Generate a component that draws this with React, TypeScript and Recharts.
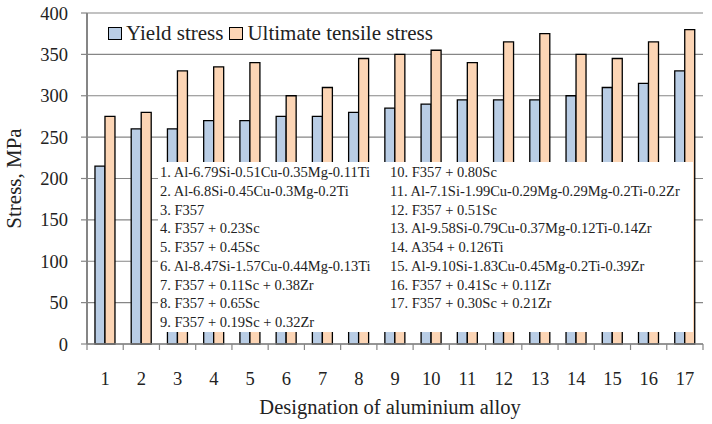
import React from 'react';
import { BarChart, Bar, XAxis, YAxis, CartesianGrid } from 'recharts';

const alloyIds = ['1', '2', '3', '4', '5', '6', '7', '8', '9', '10', '11', '12', '13', '14', '15', '16', '17'];
const yieldStress = [215, 260, 260, 270, 270, 275, 275, 280, 285, 290, 295, 295, 295, 300, 310, 315, 330];
const ultimateStress = [275, 280, 330, 335, 340, 300, 310, 345, 350, 355, 340, 365, 375, 350, 345, 365, 380];
const yTicks = [0, 50, 100, 150, 200, 250, 300, 350, 400];
const seriesNames = ['Yield stress', 'Ultimate tensile stress'];
const seriesColors = ['#B9CDE5', '#FCD5B5'];
const alloyNames = [
  '1. Al-6.79Si-0.51Cu-0.35Mg-0.11Ti',
  '2. Al-6.8Si-0.45Cu-0.3Mg-0.2Ti',
  '3. F357',
  '4. F357 + 0.23Sc',
  '5. F357 + 0.45Sc',
  '6. Al-8.47Si-1.57Cu-0.44Mg-0.13Ti',
  '7. F357 + 0.11Sc + 0.38Zr',
  '8. F357 + 0.65Sc',
  '9. F357 + 0.19Sc + 0.32Zr',
  '10. F357 + 0.80Sc',
  '11. Al-7.1Si-1.99Cu-0.29Mg-0.29Mg-0.2Ti-0.2Zr',
  '12. F357 + 0.51Sc',
  '13. Al-9.58Si-0.79Cu-0.37Mg-0.12Ti-0.14Zr',
  '14. A354 + 0.126Ti',
  '15. Al-9.10Si-1.83Cu-0.45Mg-0.2Ti-0.39Zr',
  '16. F357 + 0.41Sc + 0.11Zr',
  '17. F357 + 0.30Sc + 0.21Zr',
];

const data = alloyIds.map((id, i) => ({ id, ys: yieldStress[i], uts: ultimateStress[i] }));

const FONT = '"Liberation Serif", serif';
const GRAY = '#868686';

const XTick = (props: any) => {
  const { x, y, payload, index, visibleTicksCount } = props;
  const off = payload && payload.offset != null ? payload.offset : 18;
  const isLast = index === visibleTicksCount - 1;
  return (
    <g>
      <line x1={x - off} x2={x - off} y1={y} y2={y + 6} stroke={GRAY} strokeWidth={1.2} />
      {isLast && <line x1={x + off} x2={x + off} y1={y} y2={y + 6} stroke={GRAY} strokeWidth={1.2} />}
      <text x={x} y={y + 41} textAnchor="middle" fontFamily={FONT} fontSize={18.5} fill="#222">
        {payload.value}
      </text>
    </g>
  );
};

const YLabel = (props: any) => {
  const vb = props.viewBox || { x: 0, y: 13, width: 87, height: 331 };
  const cx = vb.x + 14;
  const cy = vb.y + vb.height / 2;
  return (
    <text x={cx} y={cy} textAnchor="middle" dominantBaseline="central" transform={`rotate(-90, ${cx}, ${cy})`} fontFamily={FONT} fontSize={21} fill="#222">
      Stress, MPa
    </text>
  );
};

const XLabel = (props: any) => {
  const vb = props.viewBox || { x: 87, y: 344, width: 616, height: 80 };
  return (
    <text x={vb.x + vb.width / 2 - 5} y={vb.y + 70} textAnchor="middle" fontFamily={FONT} fontSize={20.5} fill="#222">
      Designation of aluminium alloy
    </text>
  );
};

export default function App() {
  const half = Math.ceil(alloyNames.length / 2);
  const col1 = alloyNames.slice(0, half);
  const col2 = alloyNames.slice(half);
  return (
    <div style={{ position: 'absolute', left: 0, top: 0, width: 712, height: 424, background: '#fff', fontFamily: FONT }}>
      <BarChart width={712} height={424} data={data} margin={{ top: 13, right: 9, left: 0, bottom: 0 }} barCategoryGap="22%" barGap={0}>
        <CartesianGrid vertical={false} stroke={GRAY} strokeWidth={1.2} />
        <XAxis
          dataKey="id"
          height={80}
          tickLine={false}
          tickSize={0}
          tickMargin={0}
          axisLine={{ stroke: GRAY, strokeWidth: 1.5 }}
          tick={<XTick />}
          interval={0}
          label={<XLabel />}
        />
        <XAxis xAxisId="top" dataKey="id" orientation="top" height={0} tick={false} tickLine={false} axisLine={{ stroke: '#000', strokeWidth: 2.5 }} />
        <YAxis
          domain={[0, 400]}
          ticks={yTicks}
          width={87}
          tickSize={6}
          tickMargin={13}
          tickLine={{ stroke: GRAY, strokeWidth: 1.2 }}
          axisLine={{ stroke: GRAY, strokeWidth: 2 }}
          tick={{ fontFamily: FONT, fontSize: 18.5, fill: '#222' }}
          label={<YLabel />}
        />
        <YAxis yAxisId="right" orientation="right" domain={[0, 400]} width={0} tick={false} tickLine={false} axisLine={{ stroke: '#000', strokeWidth: 2.5 }} />
        <Bar dataKey="ys" name={seriesNames[0]} fill={seriesColors[0]} stroke="#000" strokeWidth={1.3} isAnimationActive={false} />
        <Bar dataKey="uts" name={seriesNames[1]} fill={seriesColors[1]} stroke="#000" strokeWidth={1.3} isAnimationActive={false} />
      </BarChart>
      <div style={{ position: 'absolute', left: 108, top: 20, display: 'flex', alignItems: 'center', fontSize: 21, color: '#222', lineHeight: '26px' }}>
        {seriesNames.map((n, i) => (
          <div key={n} style={{ display: 'flex', alignItems: 'center', marginRight: 6 }}>
            <span style={{ display: 'inline-block', width: 12, height: 11, background: seriesColors[i], border: '1.3px solid #000', marginRight: 4 }} />
            <span>{n}</span>
          </div>
        ))}
      </div>
      <div style={{ position: 'absolute', left: 158, top: 162, width: 535, height: 170, background: '#fff', display: 'flex', fontSize: 14.5, color: '#222', lineHeight: '18.75px', paddingTop: 1, boxSizing: 'border-box' }}>
        <div style={{ width: 230, paddingLeft: 2, whiteSpace: 'nowrap' }}>
          {col1.map((t) => <div key={t}>{t}</div>)}
        </div>
        <div style={{ whiteSpace: 'nowrap' }}>
          {col2.map((t) => <div key={t}>{t}</div>)}
        </div>
      </div>
    </div>
  );
}
